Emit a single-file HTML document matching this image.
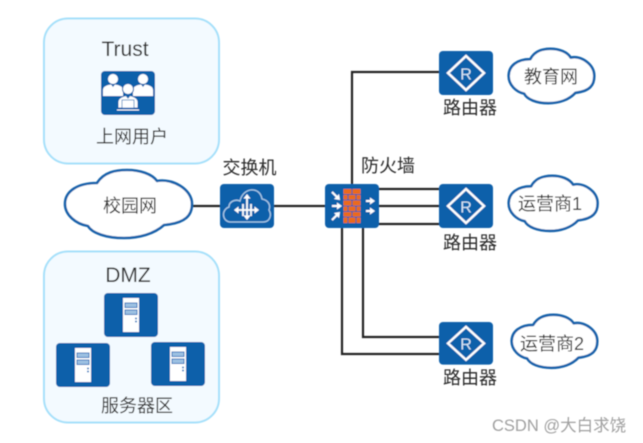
<!DOCTYPE html>
<html><head><meta charset="utf-8"><style>
html,body{margin:0;padding:0;background:#fff;width:643px;height:443px;overflow:hidden}
svg{display:block}
.t{font-family:"Liberation Sans","Noto Sans CJK SC",sans-serif;font-size:18px;fill:#2a2a2a}
.e{font-family:"Liberation Sans","Noto Sans CJK SC",sans-serif;font-size:21px;fill:#2a2a2a}
</style></head><body>
<svg width="643" height="443" viewBox="0 0 643 443" xmlns="http://www.w3.org/2000/svg">
<defs>
<filter id="b" x="-5%" y="-5%" width="110%" height="110%"><feGaussianBlur stdDeviation="0.55"/></filter>
<path id="cloud" d="M1 35C1 22 14 14 33 14C40 3 52 1 63 1C76 1 88 5 93 12C108 9 128 20 128 35C128 46 122 54 100 56C90 65 75 69 60 69C42 69 28 64 24 57C12 55 1 46 1 35Z" fill="#fff" stroke="#1762aa" stroke-width="2.600" stroke-linejoin="round" vector-effect="non-scaling-stroke"/>
<g id="router"><rect width="54" height="44" rx="4" fill="#1160aa"/>
<path d="M27 5 L45 22 L27 39 L9 22Z" fill="none" stroke="#fff" stroke-width="2.400"/>
<text x="27" y="28.500" text-anchor="middle" font-family="Liberation Sans" font-size="16" fill="#d5e6f6">R</text></g>
<g id="server"><rect width="54" height="44" rx="4" fill="#1160aa"/>
<rect x="19" y="5" width="16" height="34" fill="#fff"/>
<rect x="21" y="10" width="12" height="4.500" fill="#9cc0e2" stroke="#2f78bd"/>
<rect x="21" y="17" width="12" height="4.500" fill="#9cc0e2" stroke="#2f78bd"/>
<circle cx="32" cy="25.500" r="1" fill="#2f78bd"/><circle cx="32" cy="28.500" r="1" fill="#2f78bd"/></g>
<g id="person"><circle cx="0" cy="0" r="5" fill="#fff"/><path d="M-10 17V11C-10 7-5 6-2 5.500L0 8L2 5.500C5 6 10 7 10 11V17Z" fill="#fff"/></g>
</defs>
<g filter="url(#b)">
<rect x="44" y="18.500" width="175" height="145" rx="24" fill="#f3faff" stroke="#a5e0fa" stroke-width="2"/>
<rect x="44" y="251.500" width="175" height="171" rx="24" fill="#f3faff" stroke="#a5e0fa" stroke-width="2"/>

<g fill="none" stroke="#222" stroke-width="2.200">
<path d="M190 206H330"/>
<path d="M352 186V72H441"/>
<path d="M375 189H441M375 206H441M375 224H441"/>
<path d="M342 226V354H441"/>
<path d="M363 226V337H441"/>
</g>

<!-- trust icon -->
<rect x="101" y="71" width="54" height="44" rx="4" fill="#1160aa"/>
<use href="#person" x="113" y="79"/><use href="#person" x="143" y="79"/>
<path d="M104 99H152" stroke="#1160aa" stroke-width="1"/>
<g><circle cx="128" cy="89" r="5.500" fill="#fff" stroke="#1160aa"/><path d="M118 108V102C118 98 123 96 126 95.500L128 98L130 95.500C133 96 138 98 138 102V108Z" fill="#fff" stroke="#1160aa"/><rect x="122" y="100" width="12" height="8" fill="#fff" stroke="#1160aa" stroke-width=".6"/><path d="M117 110H139" stroke="#fff" stroke-width="1"/></g>

<!-- clouds -->
<use href="#cloud" transform="translate(64 169)"/>
<use href="#cloud" transform="translate(508 48) scale(.674 .8)"/>
<use href="#cloud" transform="translate(508 175) scale(.70 .81)"/>
<use href="#cloud" transform="translate(511 314) scale(.674 .78)"/>

<!-- switch -->
<rect x="220" y="184" width="54" height="44" rx="4" fill="#1160aa"/>
<path d="M230 222C222 221 221 210 229 207C229 201 236 199 240 201C243 187 260 186 262 199C268 200 271 205 269 210C272 215 270 222 263 222Z" fill="none" stroke="#a9cbe9" stroke-width="1.300"/>
<g stroke="#fff" stroke-width="1.800" fill="#fff">
<path d="M237 210H256M247 197V217M243 204V216M251 204V216" fill="none"/>
<path d="M247 194l-3.500 4.500h7zM247 220l-3.500-4.500h7zM259 210l-4.500-3.500v7zM234 210l4.500-3.500v7z" stroke="none"/>
</g>

<!-- firewall -->
<rect x="325" y="184" width="54" height="44" rx="4" fill="#1160aa"/>
<rect x="343.500" y="189" width="17" height="34" fill="#ea6a1e"/>
<g stroke="#1160aa" stroke-width="1.100" fill="none">
<path d="M343.500 194.500H360.500M343.500 200H360.500M343.500 206H360.500M343.500 211.500H360.500M343.500 217H360.500"/>
<path d="M352 189V194.500M348 194.500V200M356 194.500V200M352 200V206M348 206V211.500M356 206V211.500M352 211.500V217M348 217V223M356 217V223"/>
</g>
<g stroke="#fff" stroke-width="2" fill="#fff">
<path d="M332 192L338 198M332 206H339M332 220L338 214M366 201H372M366 211H372" fill="none"/>
<path d="M340 200l-1-6-5 5zM342 206l-5-3.500v7zM340 212l-6 1 5 5zM375 201l-5-3.500v7zM375 211l-5-3.500v7z" stroke="none"/>
</g>

<use href="#router" x="439" y="51"/>
<use href="#router" x="439" y="184"/>
<use href="#router" transform="translate(439 322) scale(1 .97)"/>

<use href="#server" x="104" y="293"/>
<use href="#server" x="56" y="343"/>
<use href="#server" x="151" y="342"/>

<text class="e" x="125" y="56" text-anchor="middle">Trust</text>
<text class="t" x="132" y="143" text-anchor="middle">上网用户</text>
<text class="e" x="128" y="282" text-anchor="middle">DMZ</text>
<text class="t" x="137" y="412" text-anchor="middle">服务器区</text>
<text class="t" x="130" y="212" text-anchor="middle">校园网</text>
<text class="t" x="249.500" y="174" text-anchor="middle">交换机</text>
<text class="t" x="388" y="172" text-anchor="middle">防火墙</text>
<text class="t" x="470" y="114" text-anchor="middle">路由器</text>
<text class="t" x="470" y="249" text-anchor="middle">路由器</text>
<text class="t" x="470" y="384" text-anchor="middle">路由器</text>
<text class="t" x="551" y="83" text-anchor="middle">教育网</text>
<text class="t" x="550" y="210" text-anchor="middle">运营商1</text>
<text class="t" x="552" y="350" text-anchor="middle">运营商2</text>
<text x="492" y="431" font-family="'Liberation Sans','Noto Sans CJK SC',sans-serif" font-size="16.500" fill="#a0a0a0">CSDN @大白求饶</text>
</g>
</svg>
</body></html>
